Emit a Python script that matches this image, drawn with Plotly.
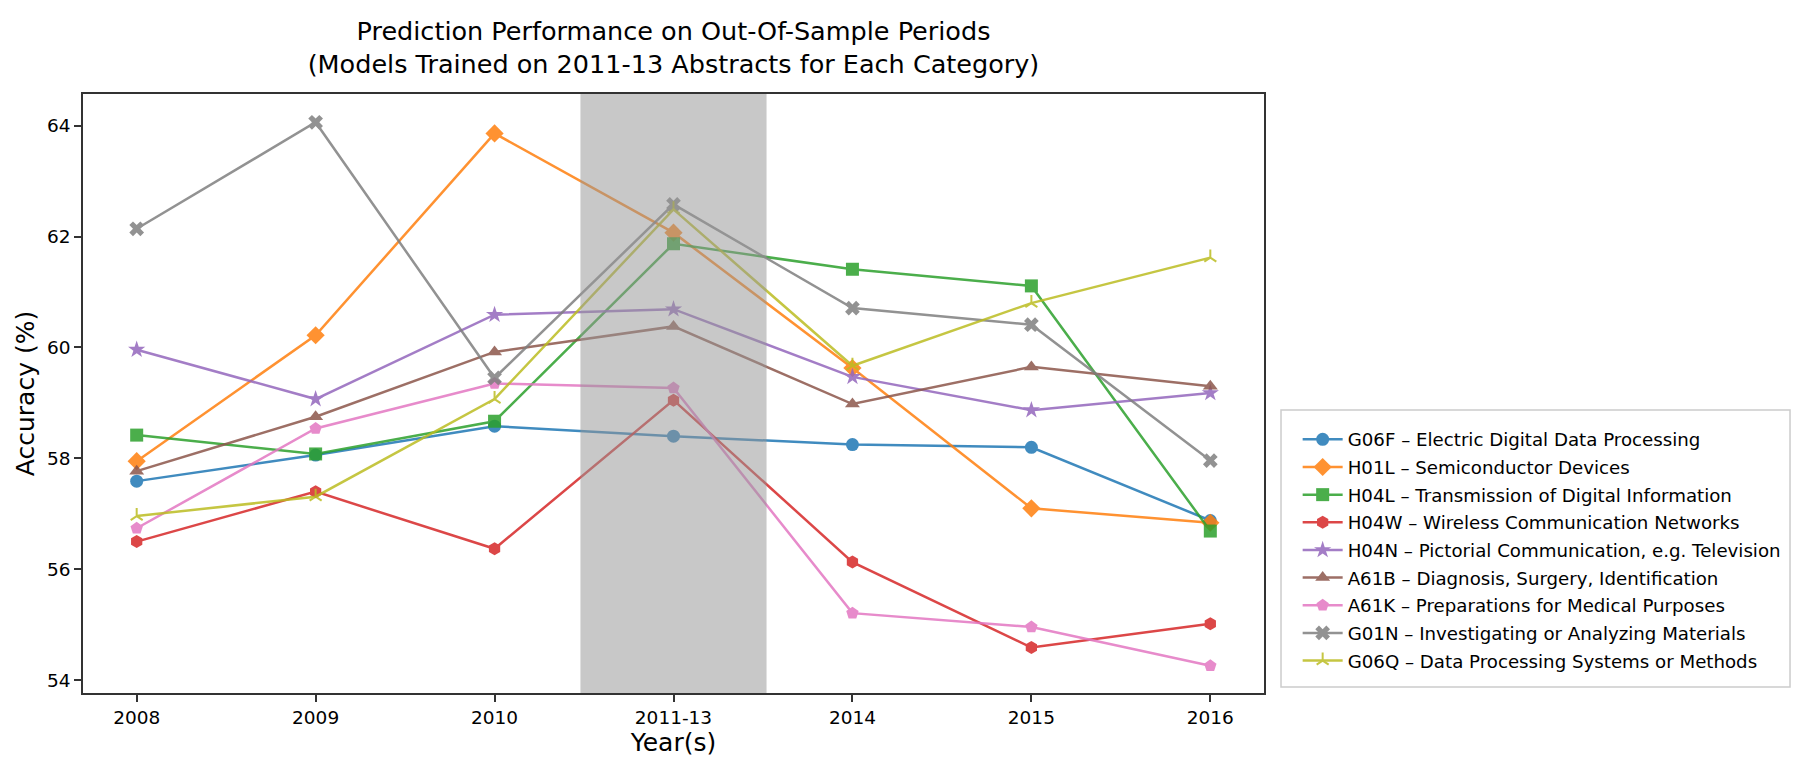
import plotly.graph_objects as go

periods = ["2008", "2009", "2010", "2011-13", "2014", "2015", "2016"]

labels = [
    "G06F – Electric Digital Data Processing",
    "H01L – Semiconductor Devices",
    "H04L – Transmission of Digital Information",
    "H04W – Wireless Communication Networks",
    "H04N – Pictorial Communication, e.g. Television",
    "A61B – Diagnosis, Surgery, Identification",
    "A61K – Preparations for Medical Purposes",
    "G01N – Investigating or Analyzing Materials",
    "G06Q – Data Processing Systems or Methods",
]

g06f = [57.59, 58.06, 58.58, 58.40, 58.25, 58.20, 56.88]
h01l = [57.95, 60.22, 63.86, 62.07, 59.63, 57.10, 56.84]
h04l = [58.42, 58.08, 58.67, 61.87, 61.41, 61.11, 56.69]
h04w = [56.50, 57.40, 56.37, 59.05, 56.13, 54.59, 55.02]
h04n = [59.96, 59.07, 60.59, 60.69, 59.47, 58.87, 59.18]
a61b = [57.77, 58.75, 59.92, 60.38, 58.98, 59.65, 59.30]
a61k = [56.74, 58.54, 59.35, 59.27, 55.21, 54.96, 54.26]
g01n = [62.14, 64.06, 59.45, 62.58, 60.71, 60.41, 57.96]
g06q = [56.96, 57.31, 59.07, 62.49, 59.67, 60.80, 61.62]

series = [g06f, h01l, h04l, h04w, h04n, a61b, a61k, g01n, g06q]
colors = ["#1f77b4", "#ff7f0e", "#2ca02c", "#d62728", "#9467bd",
          "#8c564b", "#e377c2", "#7f7f7f", "#bcbd22"]
symbols = ["circle", "diamond", "square", "hexagon", "star",
           "triangle-up", "pentagon", "x", "y-up"]
sizes = [13, 14, 13, 13, 13, 13, 13, 13, 10]

training_period = "2011-13"

fig = go.Figure()
for name, vals, col, sym, sz in zip(labels, series, colors, symbols, sizes):
    is_open = sym == "y-up"
    fig.add_trace(go.Scatter(
        x=periods, y=vals, mode="lines+markers", name=name,
        legendgroup=name,
        line=dict(color=col, width=2.5),
        marker=dict(symbol=sym, size=sz, color=col,
                    line=dict(color=col, width=2 if is_open else 0)),
        opacity=0.85,
    ))

idx = periods.index(training_period)
fig.add_shape(type="rect", xref="x", yref="paper",
              x0=idx - 0.52, x1=idx + 0.52, y0=0, y1=1,
              fillcolor="rgba(150,150,150,0.52)", line=dict(width=0),
              layer="above")

# legend frame
fig.add_shape(type="rect", xref="paper", yref="paper",
              x0=1.0144, x1=1.4454, y0=0.010, y1=0.4725,
              fillcolor="white", line=dict(color="#cccccc", width=1.5),
              layer="below")

font_family = "DejaVu Sans"
axis_common = dict(showline=True, mirror=True, linecolor="#333333", linewidth=1.5,
                   ticks="outside", ticklen=7, tickwidth=1.5, tickcolor="#333333",
                   showgrid=False, zeroline=False,
                   tickfont=dict(family=font_family, size=18.5, color="black"))

fig.update_layout(
    width=1797, height=761,
    paper_bgcolor="white", plot_bgcolor="white",
    margin=dict(l=75, r=541, t=86, b=76),
    font=dict(family=font_family, color="black"),
    title=dict(text="Prediction Performance on Out-Of-Sample Periods<br>(Models Trained on 2011-13 Abstracts for Each Category)",
               x=0.5, xref="paper", xanchor="center",
               y=1 - 32 / 761, yref="container", yanchor="middle",
               font=dict(family=font_family, size=25.5, color="black")),
    xaxis=dict(type="category", range=[-0.3, 6.3],
               title=dict(text="Year(s)", font=dict(family=font_family, size=25), standoff=6),
               **axis_common),
    yaxis=dict(range=[53.77, 64.57], dtick=2, tick0=54,
               title=dict(text="Accuracy (%)", font=dict(family=font_family, size=25), standoff=5),
               **axis_common),
    legend=dict(x=1.0285, y=0.4541, xanchor="left", yanchor="top",
                bgcolor="rgba(0,0,0,0)", borderwidth=0,
                font=dict(family=font_family, size=18.2, color="black"),
                itemwidth=40, tracegroupgap=1),
    showlegend=True,
)

fig.write_html("out.html")
